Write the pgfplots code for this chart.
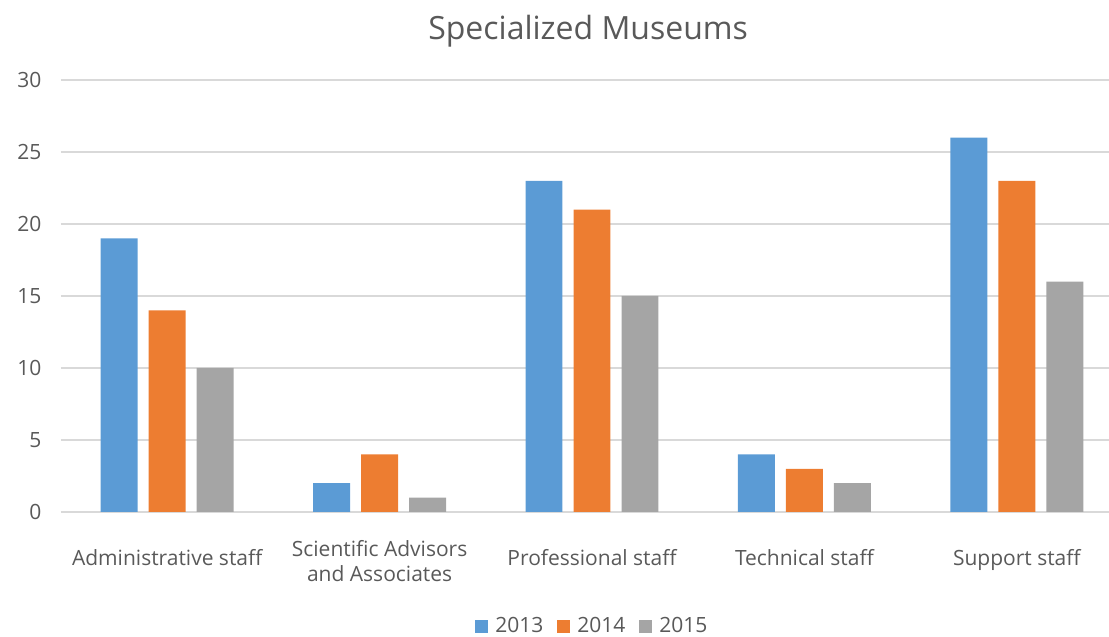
\documentclass[border=0pt]{standalone}
\usepackage{pgfplots}
\pgfplotsset{compat=1.18}
\usepackage{fontspec}
\setmainfont{Open Sans}
\definecolor{cBlue}{HTML}{5B9BD5}
\definecolor{cOrange}{HTML}{ED7D31}
\definecolor{cGray}{HTML}{A5A5A5}
\definecolor{cText}{HTML}{595959}
\definecolor{cGrid}{HTML}{D9D9D9}
\begin{document}
\begin{tikzpicture}[x=1pt,y=1pt]
\useasboundingbox (0,0) rectangle (1109,637);
\begin{axis}[
  at={(61pt,125pt)}, anchor=south west,
  scale only axis, width=1048pt, height=432pt,
  xmin=-0.5, xmax=4.434, ymin=0, ymax=30,
  ytick={0,5,...,30},
  xtick={0,1,2,3,4},
  /pgf/number format/assume math mode=true,
  xticklabels={{\mbox{}\\Administrative staff},{Scientific Advisors\\and Associates},{\mbox{}\\Professional staff},{\mbox{}\\Technical staff},{\mbox{}\\Support staff}},
  xticklabel style={align=center, anchor=north, yshift=-25pt, font=\fontsize{21}{25}\selectfont, text=cText},
  yticklabel style={font=\fontsize{21}{24}\selectfont, text=cText, xshift=-16pt},
  major tick length=0pt,
  axis lines=left, axis line style={draw=none},
  ymajorgrids, grid style={cGrid, line width=1.5pt},
  bar width=0.174,
  title={Specialized Museums},
  title style={at={(0.503,1.100)}, anchor=center, font=\fontsize{32}{38}\selectfont, text=cText},
  legend style={at={(0.507,-0.264)}, anchor=center, draw=none, legend columns=3,
    font=\fontsize{21}{24}\selectfont, text=cText,
    /tikz/every even column/.append style={column sep=12pt},
    /tikz/every odd column/.append style={column sep=5pt}},
  legend image code/.code={\fill[#1] (0pt,-6.5pt) rectangle (13pt,6.5pt);},
]
\addplot[ybar, bar shift=-0.226, fill=cBlue, draw=none] coordinates {(0,19) (1,2) (2,23) (3,4) (4,26)};
\addplot[ybar, bar shift=0, fill=cOrange, draw=none] coordinates {(0,14) (1,4) (2,21) (3,3) (4,23)};
\addplot[ybar, bar shift=0.226, fill=cGray, draw=none] coordinates {(0,10) (1,1) (2,15) (3,2) (4,16)};
\legend{2013,2014,2015}
\end{axis}
\end{tikzpicture}
\end{document}
